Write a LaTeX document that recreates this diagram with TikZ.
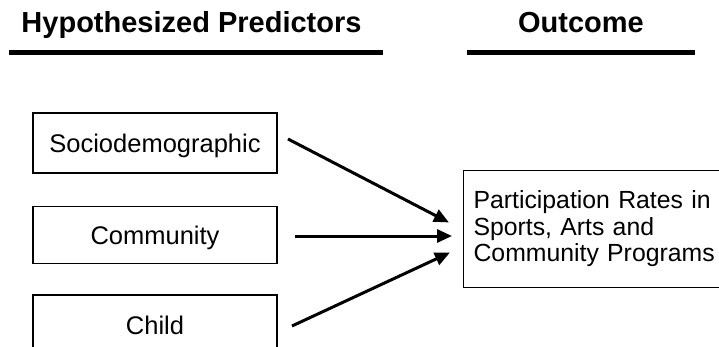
\documentclass[tikz,border=0pt]{standalone}
\usepackage{fontspec}
\setmainfont{Liberation Sans}
\usetikzlibrary{arrows.meta}
\tikzset{
  predbox/.style={draw, line width=1.1pt, minimum width=244pt, minimum height=#1, inner sep=0pt,
    text height=18.5pt, text depth=0pt, font=\fontsize{25.5}{26.5}\selectfont},
  outbox/.style={draw, line width=1.1pt, minimum height=117pt, inner xsep=10pt,
    text width=270pt, align=left, font=\fontsize{24.8}{26.5}\selectfont},
  heading/.style={anchor=base, inner sep=0pt, font=\fontsize{29}{32}\selectfont\bfseries},
  rule/.style={line width=5pt},
  conn/.style={line width=3pt, -{Triangle[length=15pt,width=13pt]}, shorten >=-1pt}
}
\begin{document}
\begin{tikzpicture}[x=1pt,y=-1pt]
\useasboundingbox (0,0) rectangle (719,347);
\clip (0,0) rectangle (719,347);
\node[heading] (h1) at (191.5,33) {Hypothesized Predictors};
\node[heading] (h2) at (581,33) {Outcome};
\coordinate (r1a) at (9,52.5);
\coordinate (r1b) at (383,52.5);
\coordinate (r2a) at (467,52.5);
\coordinate (r2b) at (695,52.5);
\draw[rule] (r1a) -- (r1b);
\draw[rule] (r2a) -- (r2b);
\node[predbox=60pt] (socio) at (155,143) {Sociodemographic};
\node[predbox=57pt] (comm) at (155,235) {Community};
\node[predbox=60pt] (child) at (155,325) {Child};
\node[outbox, anchor=west] (out) at (463,229) {Participation Rates in\\Sports, Arts and\\Community Programs};
\coordinate (s1) at (288,139);
\coordinate (s2) at (295,236);
\coordinate (s3) at (292,326);
\coordinate (t1) at (448,222);
\coordinate (t2) at (451,236);
\coordinate (t3) at (449,253);
\draw[conn] (s1) -- (t1);
\draw[conn] (s2) -- (t2);
\draw[conn] (s3) -- (t3);
\end{tikzpicture}
\end{document}
